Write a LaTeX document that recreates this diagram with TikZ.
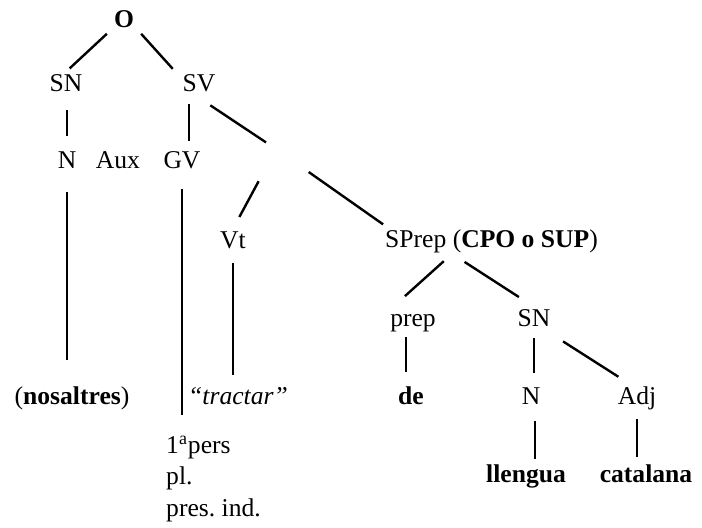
\documentclass[tikz,border=0pt]{standalone}
\usepackage{fontspec}
\setmainfont{Liberation Serif}
\frenchspacing

\begin{document}
\begin{tikzpicture}[x=0.5pt,y=-0.5pt,line width=1.2pt,
        font=\fontsize{12.8}{15.7}\selectfont,
        lab/.style={anchor=base,inner xsep=3pt,inner ysep=0pt,text height=9pt,text depth=2.8pt}]
            \useasboundingbox (0,0) rectangle (702,527);

            % Draw labels of the tree
            \node[lab] (O) at (124,27) {\textbf{O}};
            \node[lab] (SNa) at (66,91) {SN};
            \node[lab] (SV) at (199,91) {SV};
            \node[lab] (Na) at (67,168) {N};
            \node[lab] (Aux) at (118,168) {Aux};
            \node[lab] (GV) at (182,168) {GV};
            \node[lab] (Vt) at (233,248) {Vt};
            \node[lab,anchor=base west] (SP) at (378,247) {SPrep (\textbf{CPO o SUP})};
            \node[lab] (prep) at (413,326) {prep};
            \node[lab] (SNb) at (534,326) {SN};
            \node[lab] (nos) at (72,404) {(\textbf{nosaltres})};
            \node[lab] (tr) at (238,404) {\textit{“tractar”}};
            \node[lab] (de) at (411,404) {\textbf{de}};
            \node[lab] (Nb) at (531,404) {N};
            \node[lab] (Adj) at (637,404) {Adj};
            \node[lab] (lle) at (526,482) {\textbf{llengua}};
            \node[lab] (cat) at (646,482) {\textbf{catalana}};
            \node[anchor=north west,inner sep=0pt,align=left] (feat) at (165,435) {1\textsuperscript{a}pers\\pl.\\pres. ind.};

            % free ends of the branches
            \coordinate (jn) at (276,149);
            \coordinate (spj) at ([xshift=37pt]SP.south west);

            % Draw branches
            \draw[shorten >=2.5pt] (O.south west) -- (SNa.north);
            \draw[shorten >=2pt] (O.south east) -- (SV.north west);
            \draw[shorten <=6.2pt, shorten >=6.5pt] (Na |- SNa.south) -- (Na.north);
            \draw[shorten <=3.2pt, shorten >=4pt] ([xshift=3.5pt]GV.north |- SV.south) -- ([xshift=3.5pt]GV.north);
            \draw[shorten <=6.8pt, shorten >=6pt] (SV.south) -- (jn);
            \draw[shorten <=8.7pt, shorten >=12.5pt] (Na.south) -- (Na.south |- nos.north);
            \draw[shorten <=7.2pt, shorten >=9.8pt] (GV.south) -- (GV.south |- feat.north);
            \draw[shorten <=18.3pt, shorten >=6.7pt] (jn) -- (Vt.north);
            \draw[shorten <=20pt, shorten >=3pt] (jn) -- ([xshift=5pt]SP.north west);
            \draw[shorten <=4.2pt, shorten >=5pt] (Vt.south) -- (Vt.south |- tr.north);
            \draw[shorten <=5.5pt, shorten >=8pt] (spj) -- ([xshift=5pt]prep.north west);
            \draw[shorten <=7.5pt, shorten >=9pt] (spj) -- (SNb.north);
            \draw[shorten <=2.2pt, shorten >=6.5pt] ([xshift=-3.5pt]prep.south) -- ([xshift=-3.5pt]prep.south |- de.north);
            \draw[shorten <=2.7pt, shorten >=6pt] (SNb.south) -- (SNb.south |- Nb.north);
            \draw[shorten <=8pt, shorten >=7.5pt] ([xshift=-4pt]SNb.south east) -- ([xshift=-3pt]Adj.north);
            \draw[shorten <=5.2pt, shorten >=2pt] ([xshift=2pt]Nb.south) -- ([xshift=2pt]Nb.south |- lle.north);
            \draw[shorten <=4.2pt, shorten >=3pt] (Adj.south) -- (Adj.south |- cat.north);
        \end{tikzpicture}
\end{document}
